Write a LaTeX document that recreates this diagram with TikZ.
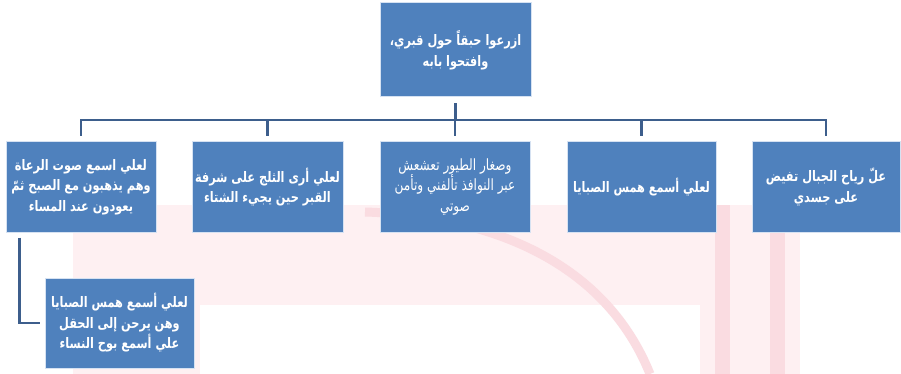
\documentclass[tikz,border=0pt]{standalone}
\usepackage{fontspec}
\TeXXeTstate=1
\newfontfamily\arabicfont[Script=Arabic,FakeStretch=0.78,
  BoldFont={DejaVu Sans Bold},BoldFeatures={FakeStretch=0.78}]{DejaVu Sans}
\newcommand{\arl}[1]{\beginR #1\endR}
\definecolor{boxblue}{HTML}{4F81BD}
\definecolor{boxedge}{HTML}{D6E2F2}
\definecolor{linkblue}{HTML}{3D5E8C}
\definecolor{markpink}{HTML}{FEF0F2}
\definecolor{markrose}{HTML}{FADCE1}
\tikzset{
  textbox/.style={rectangle, fill=boxblue, draw=boxedge, line width=1pt,
    text=white, align=center, inner sep=1pt,
    font=\arabicfont\bfseries\fontsize{14.5}{20.5}\selectfont},
  conn/.style={draw=linkblue, line width=2.6pt},
}
\begin{document}
\begin{tikzpicture}[x=1pt,y=-1pt]
\useasboundingbox (0,0) rectangle (901,374);
\fill[white] (0,0) rectangle (901,374);

% faint background mark
\fill[markpink] (73,205) rectangle (800,305);
\fill[markpink] (73,305) rectangle (200,374);
\fill[markpink] (700,305) rectangle (800,374);
\draw[markrose, line width=9pt] (365,212) .. controls (470,215) and (600,250) .. (650,374);
\fill[markrose] (715,205) rectangle (730,374);
\fill[markrose] (770,205) rectangle (785,374);

% boxes
\node[textbox, minimum width=151pt, minimum height=94pt] (top) at (455.5,50)
  {\arl{ازرعوا حبقاً حول قبري،}\\\arl{وافتحوا بابه}};
\node[textbox, minimum width=150pt, minimum height=90pt] (b1) at (81,187)
  {\arl{لعلي اسمع صوت الرعاة}\\\arl{وهم يذهبون مع الصبح ثمّ}\\\arl{يعودون عند المساء}};
\node[textbox, minimum width=151pt, minimum height=90pt] (b2) at (267.5,187)
  {\arl{لعلي أرى الثلج على شرفة}\\\arl{القبر حين يجيء الشتاء}};
\node[textbox, minimum width=150pt, minimum height=90pt, font=\arabicfont\fontsize{15.5}{20.5}\selectfont] (b3) at (455,187)
  {\arl{وصغار الطيور تعشعش}\\\arl{عبر النوافذ تألفني وتأمن}\\\arl{صوتي}};
\node[textbox, minimum width=149pt, minimum height=90pt] (b4) at (641.5,187)
  {\arl{لعلي أسمع همس الصبايا}};
\node[textbox, minimum width=148pt, minimum height=90pt] (b5) at (826,187)
  {\arl{علّ رياح الجبال تفيض}\\\arl{على جسدي}};
\node[textbox, minimum width=149pt, minimum height=90pt] (sub) at (119.5,323)
  {\arl{لعلي أسمع همس الصبايا}\\\arl{وهن يرحن إلى الحقل}\\\arl{علي أسمع بوح النساء}};

% connectors
\coordinate (bus) at (455.5,120);
\foreach \child in {b1,b2,b3,b4,b5}
  \draw[conn, shorten <=6pt, shorten >=5pt] (top.south) -- (bus) -| (\child.north);
\draw[conn, shorten <=5pt, shorten >=5pt] ([xshift=14pt]b1.south west) |- (sub.west);
\end{tikzpicture}
\end{document}
